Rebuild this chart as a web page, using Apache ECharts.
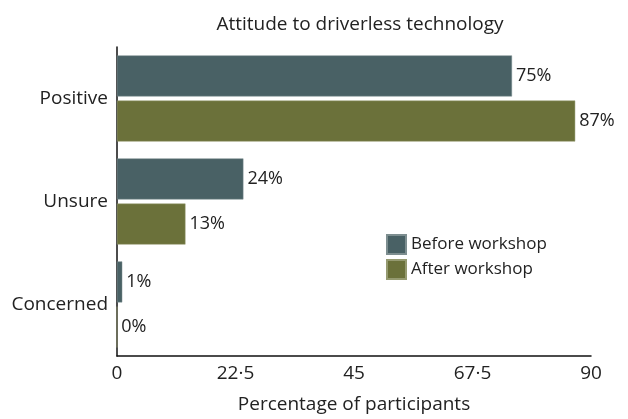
<!DOCTYPE html>
<html><head><meta charset="utf-8">
<script src="https://cdn.jsdelivr.net/npm/echarts@6/dist/echarts.min.js"></script>
<style>html,body{margin:0;padding:0;background:#fff}#c{width:628px;height:419px}</style>
</head><body><div id="c"></div>
<script>
const categories = ['Positive', 'Unsure', 'Concerned'];
const beforeValues = [75, 24, 1];
const afterValues = [87, 13, 0];
const seriesNames = ['Before workshop', 'After workshop'];
const xTicks = [0, 22.5, 45, 67.5, 90];

const font = '"Open Sans", "Noto Sans", sans-serif';
const chart = echarts.init(document.getElementById('c'));
const lbl = {show: true, position: 'right', distance: 4, formatter: '{c}%', color: '#222', fontSize: 18, fontFamily: font};
chart.setOption({
  animation: false,
  title: {text: 'Attitude to driverless technology', left: 355, top: 10, textAlign: 'center',
    textStyle: {fontSize: 19, fontWeight: 'normal', color: '#222', fontFamily: font}},
  grid: {left: 117, right: 37, top: 47, bottom: 62},
  legend: {data: seriesNames, orient: 'vertical', left: 381, top: 229, itemWidth: 19, itemHeight: 19, itemGap: 4,
    icon: 'rect', textStyle: {fontSize: 17, color: '#222', fontFamily: font}},
  xAxis: {type: 'value', min: xTicks[0], max: xTicks[xTicks.length - 1], interval: 22.5,
    name: 'Percentage of participants', nameLocation: 'middle', nameGap: 39,
    nameTextStyle: {fontSize: 19, color: '#222', fontFamily: font},
    axisLine: {show: true, lineStyle: {color: '#111', width: 1.5}}, axisTick: {show: false}, splitLine: {show: false},
    axisLabel: {fontSize: 19, color: '#222', fontFamily: font, margin: 8,
      formatter: v => String(v).replace('.', '·')}},
  yAxis: {type: 'category', data: categories, inverse: true,
    axisLine: {show: true, lineStyle: {color: '#111', width: 1.5}}, axisTick: {show: false},
    axisLabel: {fontSize: 19, color: '#222', fontFamily: font, margin: 9}},
  series: [
    {name: seriesNames[0], type: 'bar', data: beforeValues, barWidth: 41, barGap: '10%',
      itemStyle: {color: '#496165', borderColor: '#7d8e90', borderWidth: 0.5}, label: lbl},
    {name: seriesNames[1], type: 'bar', data: afterValues, barWidth: 41,
      itemStyle: {color: '#6b713a', borderColor: '#959a70', borderWidth: 0.5}, label: lbl}
  ]
});
</script></body></html>
